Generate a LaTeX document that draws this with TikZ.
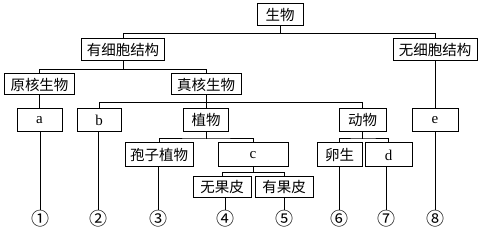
\documentclass[tikz,border=0pt]{standalone}
\usepackage{fontspec}
\setmainfont{Liberation Serif}
\newfontfamily\cjk{Noto Sans CJK SC}
\begin{document}
\begin{tikzpicture}[x=1pt,y=-1pt,
  box/.style={draw,line width=1pt,inner sep=0pt,minimum height=22pt,font=\cjk\fontsize{14.5}{14.5}\selectfont},
  lbox/.style={draw,line width=1pt,inner sep=0pt,minimum height=23pt,font=\fontsize{15}{15}\selectfont},
  num/.style={inner sep=0pt,font=\cjk\fontsize{18}{18}\selectfont},
  conn/.style={line width=1pt}]
\useasboundingbox (0,0) rectangle (480,229);
% level 0
\node[box,minimum width=46pt] (sw) at (280,15) {生物};
% level 1
\node[box,minimum width=83pt] (yx) at (123,50) {有细胞结构};
\node[box,minimum width=84pt] (wx) at (435,50) {无细胞结构};
% level 2
\node[box,minimum width=70pt,minimum height=21pt] (yh) at (39.5,84.5) {原核生物};
\node[box,minimum width=70pt,minimum height=21pt] (zh) at (206,84.5) {真核生物};
% level 3
\node[lbox,minimum width=45pt] (a) at (39.5,120) {a};
\node[lbox,minimum width=44pt] (b) at (99,120) {b};
\node[box,minimum width=45pt,minimum height=23pt] (zw) at (206,120) {植物};
\node[box,minimum width=47pt,minimum height=23pt] (dw) at (362.5,120) {动物};
\node[lbox,minimum width=46pt] (e) at (435,120) {e};
% level 4
\node[box,minimum width=68pt,minimum height=24pt] (bz) at (159,155) {孢子植物};
\node[lbox,minimum width=70pt,minimum height=24pt] (c) at (253,155) {c};
\node[box,minimum width=45pt,minimum height=24pt] (lz) at (339.5,155) {卵生};
\node[lbox,minimum width=47pt,minimum height=24pt] (d) at (388.5,155) {d};
% level 5
\node[box,minimum width=58pt,minimum height=21pt] (wg) at (222,187.5) {无果皮};
\node[box,minimum width=58pt,minimum height=21pt] (yg) at (284,187.5) {有果皮};
% numbers
\node[num] (n1) at (40,219) {①};
\node[num] (n2) at (98,219) {②};
\node[num] (n3) at (158,219) {③};
\node[num] (n4) at (225,219) {④};
\node[num] (n5) at (284,219) {⑤};
\node[num] (n6) at (339,219) {⑥};
\node[num] (n7) at (386,219) {⑦};
\node[num] (n8) at (435,219) {⑧};
% tree connectors
\draw[conn] (sw.south) -- ++(0,7) coordinate (j1);
\draw[conn] (yx.north) |- (j1) -| (wx.north);
\draw[conn] (yx.south) -- ++(0,8) coordinate (j2);
\draw[conn] (yh.north) |- (j2) -| (zh.north);
\draw[conn] (zh.south) -- ++(0,7) coordinate (j3);
\draw[conn] (b.north) |- (j3) -| (dw.north);
\draw[conn] (j3) -- (zw.north);
\draw[conn] (yh.south) -- (a.north);
\draw[conn] (wx.south) -- (e.north);
\draw[conn] (zw.south) -- ++(0,7) coordinate (j4);
\draw[conn] (bz.north) |- (j4) -| (c.north);
\draw[conn] (dw.south) -- ++(0,7) coordinate (j5);
\draw[conn] (lz.north) |- (j5) -| (d.north);
\draw[conn] (c.south) -- ++(0,5) coordinate (j6);
\draw[conn] (wg.north) |- (j6) -| (yg.north);
% leaf connectors
\draw[conn] (n1 |- a.south) -- (n1.north);
\draw[conn] (n2 |- b.south) -- (n2.north);
\draw[conn] (n3 |- bz.south) -- (n3.north);
\draw[conn] (n4 |- wg.south) -- (n4.north);
\draw[conn] (n5 |- yg.south) -- (n5.north);
\draw[conn] (n6 |- lz.south) -- (n6.north);
\draw[conn] (n7 |- d.south) -- (n7.north);
\draw[conn] (n8 |- e.south) -- (n8.north);
\end{tikzpicture}
\end{document}
